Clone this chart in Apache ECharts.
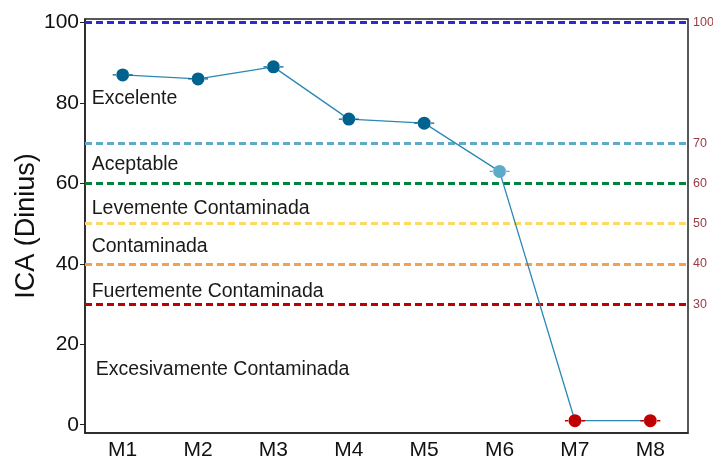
<!DOCTYPE html>
<html>
<head>
<meta charset="utf-8">
<script src="https://cdn.jsdelivr.net/npm/echarts@6/dist/echarts.min.js"></script>
<style>
  html, body { margin: 0; padding: 0; background: #fff; }
  #charts { width: 713px; height: 464px; }
</style>
</head>
<body>
<div id="charts"></div>
<script>
// sitios de muestreo y valores ICA
var sitios = ['M1', 'M2', 'M3', 'M4', 'M5', 'M6', 'M7', 'M8'];
var ica = [87, 86, 89, 76, 75, 63, 1, 1];
var colorPunto = ['#00628f', '#00628f', '#00628f', '#00628f', '#00628f', '#5eaac9', '#c00000', '#c00000'];

// limites de clase
var limites = [100, 70, 60, 50, 40, 30];
var colorLimite = ['#2b2bd6', '#5eaac9', '#00843d', '#ffd966', '#f4a04f', '#c00000'];

// etiquetas de zona (texto y altura en escala ICA)
var zonas = ['Excelente', 'Aceptable', 'Levemente Contaminada', 'Contaminada', 'Fuertemente Contaminada', 'Excesivamente Contaminada'];
var zonaY = [81, 64.6, 53.7, 44.2, 33.1, 13.7];

var yTicks = [0, 20, 40, 60, 80, 100];

var myChart = echarts.init(document.getElementById('charts'));

// simbolo: circulo con barra horizontal
var simbolo = 'path://M3.5,6.5 a6.5,6.5 0 1,0 13,0 a6.5,6.5 0 1,0 -13,0 Z M0,5.8 L4,5.8 L4,7.2 L0,7.2 Z M16,5.8 L20,5.8 L20,7.2 L16,7.2 Z';

var option = {
    animation: false,
    grid: {
        left: 85, right: 25, top: 19, bottom: 31,
        outerBoundsMode: 'none',
        show: true, borderColor: '#222', borderWidth: 1.5, backgroundColor: 'transparent'
    },
    xAxis: {
        type: 'category',
        data: sitios,
        boundaryGap: true,
        axisLine: { onZero: false, lineStyle: { color: '#222', width: 1.5 } },
        axisTick: { alignWithLabel: true, length: 5, lineStyle: { color: '#222' } },
        axisLabel: { color: '#111', fontSize: 21, fontFamily: 'Liberation Sans', margin: 7 },
        splitLine: { show: false }
    },
    yAxis: {
        type: 'value',
        min: -2.06,
        max: 100.9,
        name: 'ICA (Dinius)',
        nameLocation: 'middle',
        nameGap: 45,
        nameMoveOverlap: false,
        nameTextStyle: { fontSize: 27, color: '#111', fontFamily: 'Liberation Sans' },
        axisLine: { show: true, lineStyle: { color: '#222', width: 1.5 } },
        axisTick: { show: true, length: 5, customValues: yTicks, lineStyle: { color: '#222' } },
        axisLabel: { customValues: yTicks, color: '#111', fontSize: 21, fontFamily: 'Liberation Sans', margin: 6 },
        splitLine: { show: false }
    },
    series: [{
        type: 'line',
        data: ica.map(function (v, i) {
            return { value: v, itemStyle: { color: colorPunto[i] } };
        }),
        symbol: simbolo,
        symbolSize: [20, 13],
        lineStyle: { color: '#2a88b4', width: 1.3 },
        z: 5,
        markLine: {
            silent: true,
            symbol: 'none',
            data: limites.map(function (v, i) {
                return {
                    yAxis: v,
                    lineStyle: { color: colorLimite[i], type: [7, 4], width: 3 },
                    label: { formatter: String(v) }
                };
            }),
            label: {
                show: true, position: 'end', distance: 5,
                color: '#9c3a44', fontSize: 12.5, fontFamily: 'Liberation Sans'
            },
            z: 2
        },
        markPoint: {
            silent: true,
            symbol: 'circle',
            symbolSize: 0,
            data: zonas.map(function (t, i) {
                return {
                    coord: [0, zonaY[i]],
                    label: {
                        show: true,
                        formatter: t,
                        position: [i === 5 ? -27 : -31, 0],
                        align: 'left',
                        verticalAlign: 'middle',
                        color: '#1a1a1a',
                        fontSize: 19.5,
                        fontFamily: 'Liberation Sans'
                    }
                };
            })
        }
    }]
};

myChart.setOption(option);
</script>
</body>
</html>
